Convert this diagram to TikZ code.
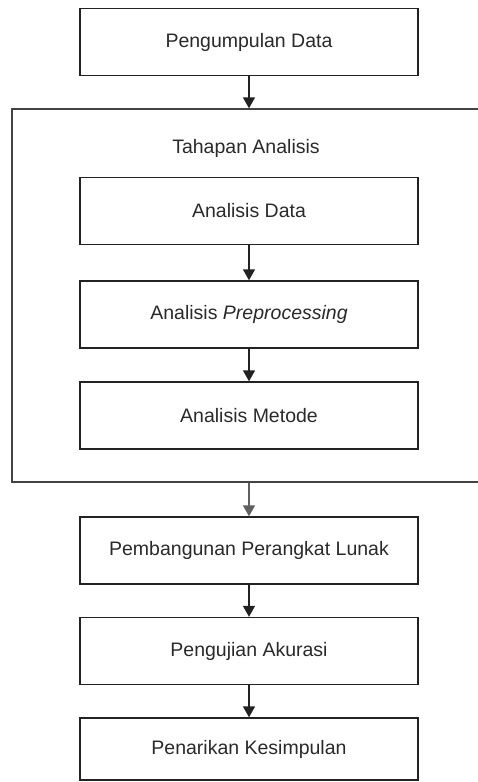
\documentclass[tikz,border=0pt]{standalone}
\usepackage{fontspec}
\setmainfont{Liberation Sans}
\usetikzlibrary{arrows.meta}
\definecolor{txt}{HTML}{2A2A2A}
\definecolor{ln}{HTML}{222222}
\begin{document}
\begin{tikzpicture}[x=1pt,y=-1pt,
  box/.style={draw=ln, line width=1.4pt, minimum width=338pt, minimum height=67pt, inner sep=0pt, text=txt, font=\fontsize{19.5}{23}\selectfont},
  outerbox/.style={draw=ln!85!white, line width=1.4pt, minimum width=468pt, minimum height=373pt, inner sep=0pt},
  arr/.style={draw=ln, line width=1.4pt, -{Triangle[length=11pt,width=12pt]}},
  lbl/.style={text=txt, font=\fontsize{19.5}{23}\selectfont}]
\useasboundingbox (0,0) rectangle (477,782);
\fill[white] (0,0) rectangle (477,782);
\node[box] (top) at (249,42) {Pengumpulan Data};
\node[outerbox] (outer) at (246,295.5) {};
\node[lbl] (title) at (246,148) {Tahapan Analisis};
\node[box] (ad) at (249,211) {Analisis Data};
\node[box] (ap) at (249,314.5) {Analisis \textit{Preprocessing}};
\node[box] (am) at (249,415.5) {Analisis Metode};
\node[box] (pp) at (249,550.5) {Pembangunan Perangkat Lunak};
\node[box] (pa) at (249,651) {Pengujian Akurasi};
\node[box, minimum height=62pt] (pk) at (249,749) {Penarikan Kesimpulan};
\draw[arr] (top.south) -- (top.south |- outer.north);
\draw[arr] (ad) -- (ap);
\draw[arr] (ap) -- (am);
\draw[arr, draw=gray!75!black] (pp.north |- outer.south) -- (pp.north);
\draw[arr] (pp) -- (pa);
\draw[arr] (pa) -- (pk);
\end{tikzpicture}
\end{document}
